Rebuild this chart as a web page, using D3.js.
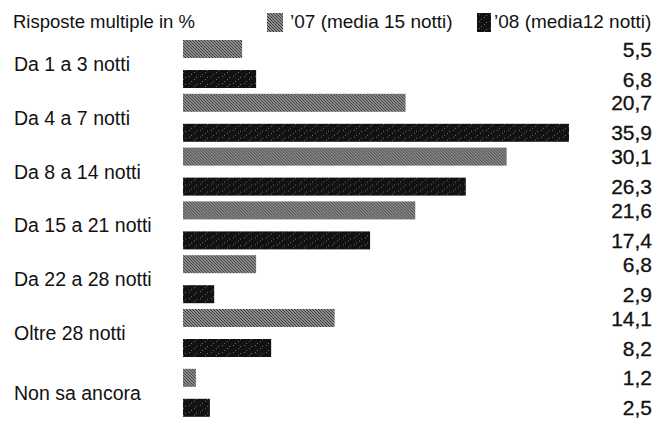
<!DOCTYPE html>
<html lang="it">
<head>
<meta charset="utf-8">
<title>Durata della vacanza</title>
<style>
  body { margin: 0; background: #fff; }
  svg { font-family: "Liberation Sans", Arial, sans-serif; display: block; }
</style>
</head>
<body>
<div id="chart"></div>
<script src="https://d3js.org/d3.v7.min.js"></script>
<script>
const categories = ["Da 1 a 3 notti", "Da 4 a 7 notti", "Da 8 a 14 notti", "Da 15 a 21 notti",
                    "Da 22 a 28 notti", "Oltre 28 notti", "Non sa ancora"];
const values07 = [5.5, 20.7, 30.1, 21.6, 6.8, 14.1, 1.2];
const values08 = [6.8, 35.9, 26.3, 17.4, 2.9, 8.2, 2.5];
const seriesNames = ["\u201907 (media 15 notti)", "\u201908 (media12 notti)"];

const width = 659, height = 423;

const svg = d3.select("#chart").append("svg")
    .attr("width", width).attr("height", height);

// textures that mimic the printed screens
const defs = svg.append("defs");
const grey = defs.append("pattern")
    .attr("id", "grey").attr("patternUnits", "userSpaceOnUse")
    .attr("width", 3).attr("height", 3);
grey.append("rect").attr("width", 3).attr("height", 3).attr("fill", "#b4b4b4");
grey.append("path").attr("d", "M0,0 L3,3 M-1,2 L1,4 M2,-1 L4,1")
    .attr("stroke", "#333").attr("stroke-width", 1.1);

const dark = defs.append("pattern")
    .attr("id", "dark").attr("patternUnits", "userSpaceOnUse")
    .attr("width", 11).attr("height", 7);
dark.append("rect").attr("width", 11).attr("height", 7).attr("fill", "#121212");
[[2, 1], [7, 4], [4, 6], [9, 2]].forEach(p =>
  dark.append("rect").attr("x", p[0]).attr("y", p[1]).attr("width", 1).attr("height", 1).attr("fill", "#6a6a6a"));

const fills = ["url(#grey)", "url(#dark)"];

// last group ("Non sa ancora") is set a little apart in the original
const extraGap = 6;
const x = d3.scaleLinear().domain([0, 35.9]).range([183, 569]);
const y = d3.scaleBand().domain(categories).range([40, 40 + 53.8 * categories.length]);
const yPos = c => y(c) + (c === "Non sa ancora" ? extraGap : 0);
const sub = d3.scaleBand().domain([0, 1]).range([0, 48]).paddingInner(0.4);

const rows = categories.map((c, i) => ({ cat: c, vals: [values07[i], values08[i]] }));

const g = svg.selectAll("g.row").data(rows).join("g")
    .attr("class", "row")
    .attr("transform", d => `translate(0,${yPos(d.cat)})`);

g.selectAll("rect").data(d => d.vals).join("rect")
    .attr("x", x(0))
    .attr("y", (v, j) => sub(j))
    .attr("width", v => x(v) - x(0))
    .attr("height", sub.bandwidth())
    .attr("fill", (v, j) => fills[j]);

g.selectAll("text.val").data(d => d.vals).join("text")
    .attr("class", "val")
    .attr("x", 652)
    .attr("y", (v, j) => sub(j) + sub.bandwidth() / 2)
    .attr("dy", "0.36em")
    .attr("text-anchor", "end")
    .attr("font-size", 21)
    .attr("fill", "#111")
    .attr("stroke", "#111").attr("stroke-width", 0.3)
    .text(v => d3.format(".1f")(v).replace(".", ","));

g.append("text")
    .attr("x", 14)
    .attr("y", (sub(0) + sub(1) + sub.bandwidth()) / 2)
    .attr("dy", "0.36em")
    .attr("font-size", 19.5)
    .attr("fill", "#111")
    .text(d => d.cat);

// header and legend
svg.append("text").attr("x", 13).attr("y", 28)
    .attr("font-size", 18.5).attr("fill", "#111")
    .text("Risposte multiple in %");

const legend = [{ x: 267, w: 16, tx: 23 }, { x: 477, w: 14, tx: 17 }];
const lg = svg.selectAll("g.legend").data(seriesNames).join("g")
    .attr("class", "legend")
    .attr("transform", (d, i) => `translate(${legend[i].x},13)`);
lg.append("rect").attr("width", (d, i) => legend[i].w).attr("height", 19)
    .attr("fill", (d, i) => fills[i]);
lg.append("text").attr("x", (d, i) => legend[i].tx).attr("y", 15)
    .attr("font-size", 19).attr("fill", "#111")
    .text(d => d);
</script>
</body>
</html>
